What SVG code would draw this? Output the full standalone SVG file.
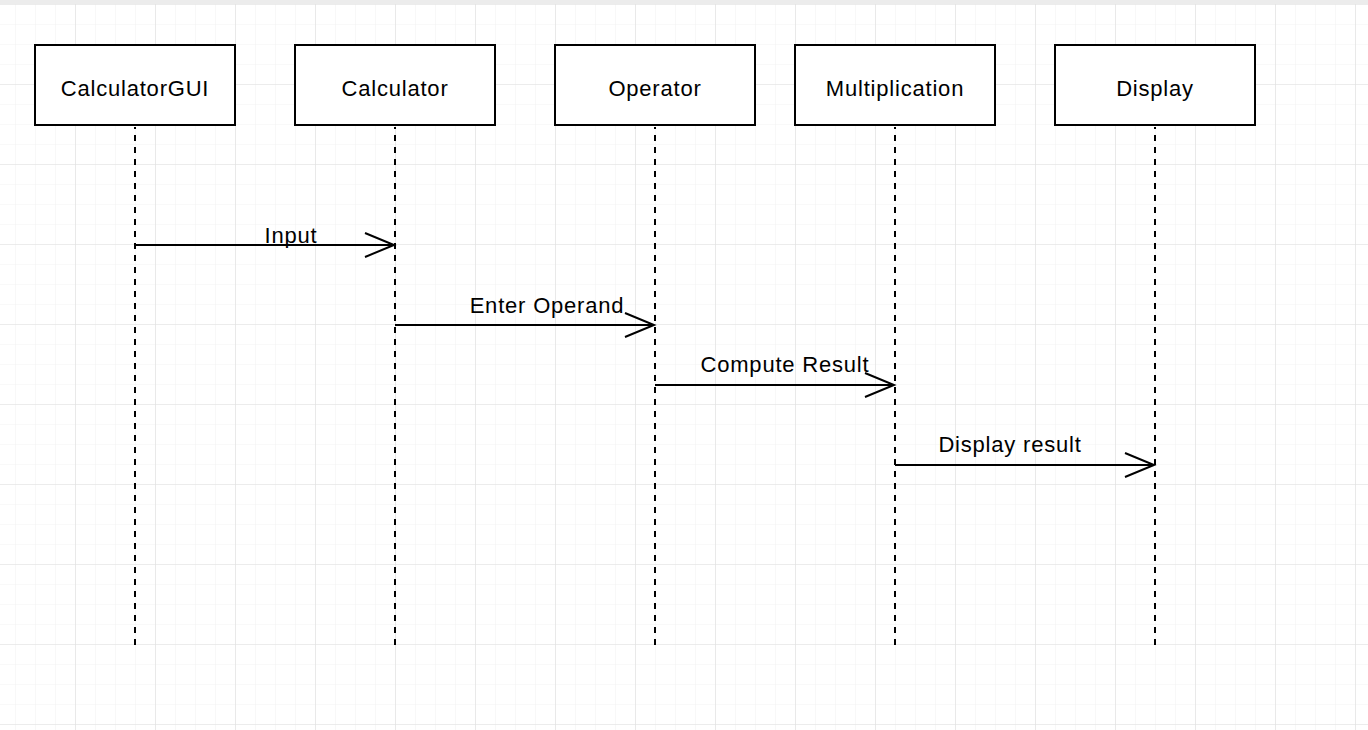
<svg xmlns="http://www.w3.org/2000/svg" width="1368" height="730" viewBox="0 0 1368 730">
  <defs>
    <pattern id="minor" x="15" y="4" width="20" height="20" patternUnits="userSpaceOnUse">
      <path d="M0 0V20M0 0H20" fill="none" stroke="#f3f3f3" stroke-width="1.2"/>
    </pattern>
    <pattern id="major" x="75" y="4" width="80" height="80" patternUnits="userSpaceOnUse">
      <path d="M0 0V80M0 0H80" fill="none" stroke="#e0e0e0" stroke-width="1.2"/>
    </pattern>
    <marker id="open" markerUnits="userSpaceOnUse" markerWidth="40" markerHeight="40" refX="30" refY="13" orient="auto">
      <path d="M1 1L30 13L1 25" fill="none" stroke="#000" stroke-width="2"/>
    </marker>
  </defs>
  <style>
    .box{fill:#fff;stroke:#000;stroke-width:2}
    .life{stroke:#000;stroke-width:2;stroke-dasharray:6 6;fill:none}
    .msg{stroke:#000;stroke-width:2;fill:none}
    text{font-family:"Liberation Sans",Arial,Helvetica,sans-serif;font-size:22px;letter-spacing:0.8px;fill:#000;text-anchor:middle}
  </style>
  <rect width="1368" height="730" fill="#fff"/>
  <rect width="1368" height="730" fill="url(#minor)"/>
  <rect width="1368" height="730" fill="url(#major)"/>
  <rect width="1368" height="4" fill="#ececec"/>

  <g id="lifelines">
    <line class="life" x1="135" y1="645" x2="135" y2="127"/>
    <line class="life" x1="395" y1="645" x2="395" y2="127"/>
    <line class="life" x1="655" y1="645" x2="655" y2="127"/>
    <line class="life" x1="895" y1="645" x2="895" y2="127"/>
    <line class="life" x1="1155" y1="645" x2="1155" y2="127"/>
  </g>

  <g id="n-calculatorgui"><rect class="box" x="35" y="45" width="200" height="80"/><text x="135" y="96">CalculatorGUI</text></g>
  <g id="n-calculator"><rect class="box" x="295" y="45" width="200" height="80"/><text x="395" y="96">Calculator</text></g>
  <g id="n-operator"><rect class="box" x="555" y="45" width="200" height="80"/><text x="655" y="96">Operator</text></g>
  <g id="n-multiplication"><rect class="box" x="795" y="45" width="200" height="80"/><text x="895" y="96">Multiplication</text></g>
  <g id="n-display"><rect class="box" x="1055" y="45" width="200" height="80"/><text x="1155" y="96">Display</text></g>

  <g id="connectors">
    <line class="msg" x1="135" y1="245" x2="394" y2="245" marker-end="url(#open)"/>
    <line class="msg" x1="395" y1="325" x2="654" y2="325" marker-end="url(#open)"/>
    <line class="msg" x1="655" y1="385" x2="894" y2="385" marker-end="url(#open)"/>
    <line class="msg" x1="895" y1="465" x2="1154" y2="465" marker-end="url(#open)"/>
    <text x="291" y="243">Input</text>
    <text x="547" y="313">Enter Operand</text>
    <text x="785" y="372">Compute Result</text>
    <text x="1010" y="452">Display result</text>
  </g>
</svg>
